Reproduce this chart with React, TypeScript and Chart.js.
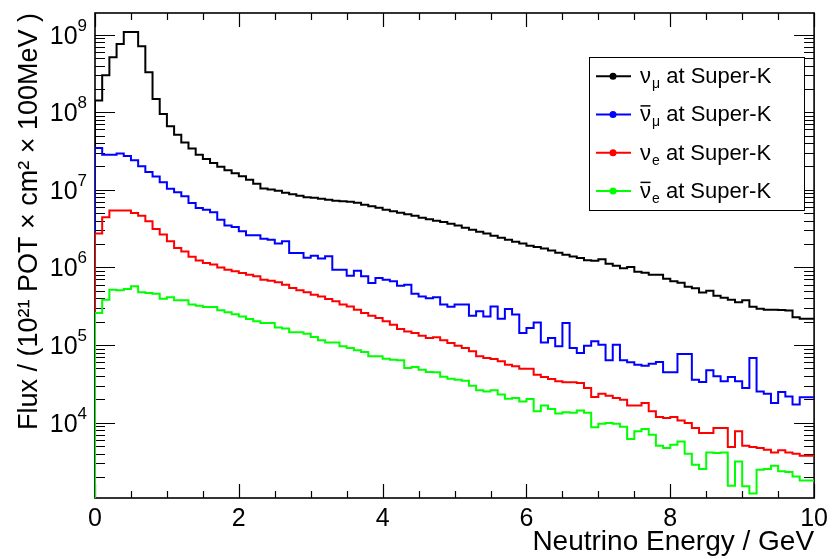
import React, { useEffect, useRef } from 'react';
import { Chart, registerables } from 'chart.js';

Chart.register(...registerables);

// ---- data -------------------------------------------------------------
const BIN_EDGES_GEV = [
  0.0, 0.1, 0.2, 0.3, 0.4, 0.5, 0.6, 0.7, 0.8, 0.9,
  1.0, 1.1, 1.2, 1.3, 1.4, 1.5, 1.6, 1.7, 1.8, 1.9,
  2.0, 2.1, 2.2, 2.3, 2.4, 2.5, 2.6, 2.7, 2.8, 2.9,
  3.0, 3.1, 3.2, 3.3, 3.4, 3.5, 3.6, 3.7, 3.8, 3.9,
  4.0, 4.1, 4.2, 4.3, 4.4, 4.5, 4.6, 4.7, 4.8, 4.9,
  5.0, 5.1, 5.2, 5.3, 5.4, 5.5, 5.6, 5.7, 5.8, 5.9,
  6.0, 6.1, 6.2, 6.3, 6.4, 6.5, 6.6, 6.7, 6.8, 6.9,
  7.0, 7.1, 7.2, 7.3, 7.4, 7.5, 7.6, 7.7, 7.8, 7.9,
  8.0, 8.1, 8.2, 8.3, 8.4, 8.5, 8.6, 8.7, 8.8, 8.9,
  9.0, 9.1, 9.2, 9.3, 9.4, 9.5, 9.6, 9.7, 9.8, 9.9,
  10.0,
];

const NUMU_SK = [
  3.7e7, 1.42e8, 2.99e8, 5.1e8, 7.59e8, 1.08e9, 1.08e9, 7.06e8, 3.27e8, 1.48e8,
  9.5e7, 6.58e7, 5.14e7, 4.06e7, 3.4e7, 2.84e7, 2.49e7, 2.21e7, 1.99e7, 1.79e7,
  1.64e7, 1.5e7, 1.35e7, 1.2e7, 1.04e7, 1.01e7, 9.77e6, 9.2e6, 8.8e6, 8.42e6,
  8.05e6, 7.93e6, 7.7e6, 7.48e6, 7.26e6, 7.15e6, 7.05e6, 6.84e6, 6.45e6, 6.16e6,
  5.9e6, 5.56e6, 5.31e6, 5.08e6, 4.86e6, 4.65e6, 4.38e6, 4.19e6, 4.01e6, 3.84e6,
  3.67e6, 3.46e6, 3.26e6, 3.07e6, 2.89e6, 2.73e6, 2.57e6, 2.42e6, 2.28e6, 2.15e6,
  2.03e6, 1.91e6, 1.83e6, 1.75e6, 1.65e6, 1.55e6, 1.46e6, 1.38e6, 1.32e6, 1.24e6,
  1.22e6, 1.28e6, 1.12e6, 1.055e6, 9.8e5, 1.01e6, 8.83e5, 8.57e5, 8.08e5, 8.08e5,
  7.17e5, 6.66e5, 6.37e5, 5.66e5, 5.41e5, 4.74e5, 5.02e5, 4.33e5, 4.08e5, 3.85e5,
  3.57e5, 3.79e5, 3.12e5, 2.94e5, 2.86e5, 2.86e5, 2.83e5, 2.78e5, 2.29e5, 2.19e5,
];

const NUMUBAR_SK = [
  3.47e7, 3.47e7, 2.84e7, 2.84e7, 2.93e7, 2.72e7, 2.4e7, 2.01e7, 1.7e7, 1.49e7,
  1.25e7, 1.03e7, 9.29e6, 8.25e6, 6.78e6, 5.85e6, 5.56e6, 5.13e6, 4.13e6, 3.46e6,
  3.33e6, 2.92e6, 2.6e6, 2.6e6, 2.35e6, 2.28e6, 2.03e6, 2.17e6, 1.54e6, 1.54e6,
  1.33e6, 1.42e6, 1.3e6, 1.39e6, 9.37e5, 9.37e5, 7.84e5, 9.09e5, 7.68e5, 6.32e5,
  7.32e5, 6.96e5, 6.62e5, 5.83e5, 6.0e5, 4.6e5, 4.24e5, 4.0e5, 4.14e5, 3.32e5,
  3.12e5, 3.32e5, 3.32e5, 2.39e5, 2.72e5, 2.34e5, 3.15e5, 2.19e5, 2.92e5, 2.47e5,
  1.43e5, 1.66e5, 1.96e5, 1.08e5, 1.23e5, 9.62e4, 1.93e5, 9.18e4, 7.91e4, 9.82e4,
  1.12e5, 1.01e5, 6.35e4, 1.01e5, 6.35e4, 5.99e4, 5.59e4, 5.43e4, 5.76e4, 6.06e4,
  4.45e4, 4.45e4, 7.68e4, 7.68e4, 3.58e4, 3.35e4, 4.72e4, 3.95e4, 3.41e4, 3.88e4,
  3.41e4, 2.8e4, 6.82e4, 2.53e4, 2.36e4, 1.79e4, 2.49e4, 2.18e4, 1.72e4, 2.12e4,
];

const NUE_SK = [
  6.37e5, 2.73e6, 4.42e6, 5.4e6, 5.4e6, 5.4e6, 5.04e6, 4.65e6, 3.93e6, 3.13e6,
  2.65e6, 2.17e6, 1.78e6, 1.61e6, 1.37e6, 1.23e6, 1.14e6, 1.09e6, 1.0e6, 9.37e5,
  8.91e5, 8.49e5, 8.08e5, 7.68e5, 6.96e5, 6.76e5, 6.46e5, 6.0e5, 5.44e5, 5.07e5,
  4.78e5, 4.46e5, 4.24e5, 3.93e5, 3.66e5, 3.32e5, 3.15e5, 2.86e5, 2.59e5, 2.39e5,
  2.24e5, 2.02e5, 1.83e5, 1.61e5, 1.5e5, 1.43e5, 1.32e5, 1.23e5, 1.26e5, 1.15e5,
  1.06e5, 9.82e4, 9.18e4, 8.3e4, 7.15e4, 6.82e4, 6.62e4, 6.17e4, 5.59e4, 5.32e4,
  4.97e4, 4.97e4, 4.16e4, 3.88e4, 3.66e4, 3.41e4, 3.31e4, 3.31e4, 3.25e4, 2.8e4,
  2.14e4, 2.36e4, 2.23e4, 2.08e4, 1.98e4, 1.66e4, 1.66e4, 1.79e4, 1.4e4, 1.18e4,
  1.15e4, 1.18e4, 1.07e4, 9.91e3, 8.55e3, 7.37e3, 7.37e3, 8.55e3, 8.55e3, 4.86e3,
  7.73e3, 5.05e3, 4.86e3, 4.72e3, 4.49e3, 4.14e3, 4.4e3, 4.14e3, 3.99e3, 3.75e3,
];

const NUEBAR_SK = [
  7.91e4, 2.59e5, 3.85e5, 5.18e5, 5.07e5, 5.28e5, 5.71e5, 4.78e5, 4.69e5, 4.6e5,
  3.96e5, 4.12e5, 3.77e5, 3.77e5, 3.32e5, 3.22e5, 3.1e5, 3.1e5, 2.8e5, 2.64e5,
  2.49e5, 2.34e5, 2.17e5, 2.02e5, 1.93e5, 1.93e5, 1.69e5, 1.63e5, 1.46e5, 1.46e5,
  1.4e5, 1.27e5, 1.15e5, 1.08e5, 1.08e5, 9.62e4, 9.18e4, 8.55e4, 8.15e4, 7.15e4,
  7.15e4, 6.68e4, 6.48e4, 6.35e4, 5.07e4, 5.22e4, 4.82e4, 4.5e4, 4.48e4, 3.92e4,
  3.69e4, 3.58e4, 3.48e4, 3.0e4, 2.61e4, 2.53e4, 2.61e4, 2.3e4, 2.04e4, 2.08e4,
  1.88e4, 2.02e4, 1.4e4, 1.66e4, 1.5e4, 1.31e4, 1.36e4, 1.34e4, 1.43e4, 1.34e4,
  8.7e3, 9.71e3, 9.91e3, 9.71e3, 8.88e3, 6.16e3, 7.73e3, 8.3e3, 7.0e3, 5.05e3,
  4.72e3, 5.21e3, 5.74e3, 3.99e3, 2.88e3, 2.53e3, 4.14e3, 4.07e3, 4.14e3, 1.54e3,
  3.17e3, 1.52e3, 1.22e3, 2.48e3, 2.53e3, 2.79e3, 2.36e3, 2.31e3, 2.03e3, 1.8e3,
];

const X_MAJOR_TICKS = [0, 2, 4, 6, 8, 10];
const X_MINOR_TICKS = [0.5, 1, 1.5, 2.5, 3, 3.5, 4.5, 5, 5.5, 6.5, 7, 7.5, 8.5, 9, 9.5];
const Y_DECADE_EXPONENTS = [3, 4, 5, 6, 7, 8, 9];
const Y_MIN = 1070;
const Y_MAX = 1.9e9;

const SERIES = [
  { key: 'numu', values: NUMU_SK, color: '#000000', nu: 'ν', bar: false, sub: 'μ' },
  { key: 'numubar', values: NUMUBAR_SK, color: '#0000ff', nu: 'ν', bar: true, sub: 'μ' },
  { key: 'nue', values: NUE_SK, color: '#ff0000', nu: 'ν', bar: false, sub: 'e' },
  { key: 'nuebar', values: NUEBAR_SK, color: '#00ff00', nu: 'ν', bar: true, sub: 'e' },
];
const LEGEND_SUFFIX = ' at Super-K';

const FONT = '"Liberation Sans", Arial, Helvetica, sans-serif';

// ---- helpers ----------------------------------------------------------
function histPoints(values: number[]) {
  const pts: { x: number; y: number }[] = [{ x: BIN_EDGES_GEV[0], y: Y_MIN }];
  values.forEach((v, i) => pts.push({ x: BIN_EDGES_GEV[i], y: v }));
  pts.push({ x: BIN_EDGES_GEV[values.length], y: values[values.length - 1] });
  return pts;
}

const rootAxesPlugin = {
  id: 'rootAxes',
  beforeDatasetsDraw(chart: any) {
    const { ctx, chartArea: a, scales } = chart;
    const xs = scales.x;
    const ys = scales.y;
    ctx.save();
    ctx.strokeStyle = '#000';
    ctx.lineWidth = 1.2;
    ctx.beginPath();
    const xTick = (v: number, len: number) => {
      const px = Math.round(xs.getPixelForValue(v)) + 0.5;
      ctx.moveTo(px, a.bottom);
      ctx.lineTo(px, a.bottom - len);
      ctx.moveTo(px, a.top);
      ctx.lineTo(px, a.top + len);
    };
    X_MAJOR_TICKS.forEach((v) => xTick(v, 14));
    X_MINOR_TICKS.forEach((v) => xTick(v, 7));
    Y_DECADE_EXPONENTS.forEach((k) => {
      for (let m = 1; m <= 9; m++) {
        const v = m * Math.pow(10, k);
        if (v < Y_MIN || v > Y_MAX) continue;
        const py = Math.round(ys.getPixelForValue(v)) + 0.5;
        const len = m === 1 ? 20 : 10;
        ctx.moveTo(a.left, py);
        ctx.lineTo(a.left + len, py);
        ctx.moveTo(a.right, py);
        ctx.lineTo(a.right - len, py);
      }
    });
    ctx.stroke();
    ctx.lineWidth = 1.6;
    ctx.strokeRect(a.left, a.top, a.right - a.left, a.bottom - a.top);

    // y tick labels (10 with superscript exponent)
    ctx.fillStyle = '#000';
    ctx.textBaseline = 'alphabetic';
    Y_DECADE_EXPONENTS.forEach((k) => {
      const v = Math.pow(10, k);
      if (v < Y_MIN || v > Y_MAX) return;
      const py = ys.getPixelForValue(v);
      ctx.font = `17px ${FONT}`;
      const exp = String(k);
      const we = ctx.measureText(exp).width;
      ctx.font = `25px ${FONT}`;
      const wb = ctx.measureText('10').width;
      const xEnd = a.left - 8;
      ctx.textAlign = 'left';
      ctx.fillText('10', xEnd - we - wb, py + 9);
      ctx.font = `17px ${FONT}`;
      ctx.fillText(exp, xEnd - we, py - 4);
    });
    ctx.restore();
  },
};

const rootLegendPlugin = {
  id: 'rootLegend',
  afterDraw(chart: any) {
    const { ctx } = chart;
    const box = { x: 589, y: 57, w: 215, h: 153 };
    ctx.save();
    ctx.fillStyle = '#ffffff';
    ctx.fillRect(box.x, box.y, box.w, box.h);
    ctx.strokeStyle = '#000';
    ctx.lineWidth = 1;
    ctx.strokeRect(box.x + 0.5, box.y + 0.5, box.w, box.h);
    const rowH = box.h / SERIES.length;
    SERIES.forEach((s, i) => {
      const cy = box.y + rowH * (i + 0.5);
      ctx.strokeStyle = s.color;
      ctx.lineWidth = 2;
      ctx.beginPath();
      ctx.moveTo(box.x + 7, cy);
      ctx.lineTo(box.x + 42, cy);
      ctx.stroke();
      ctx.fillStyle = s.color;
      ctx.beginPath();
      ctx.arc(box.x + 24, cy, 3.5, 0, Math.PI * 2);
      ctx.fill();
      // label
      ctx.fillStyle = '#000';
      ctx.textAlign = 'left';
      ctx.textBaseline = 'alphabetic';
      let x = box.x + 51;
      const base = cy + 7;
      ctx.font = `22px ${FONT}`;
      ctx.fillText(s.nu, x, base);
      const wn = ctx.measureText(s.nu).width;
      if (s.bar) {
        ctx.strokeStyle = '#000';
        ctx.lineWidth = 1.5;
        ctx.beginPath();
        ctx.moveTo(x + 0.5, base - 15.5);
        ctx.lineTo(x + wn - 0.5, base - 15.5);
        ctx.stroke();
      }
      x += wn;
      ctx.font = `14px ${FONT}`;
      ctx.fillText(s.sub, x + 1, base + 5);
      x += ctx.measureText(s.sub).width + 1;
      ctx.font = `22px ${FONT}`;
      ctx.fillText(LEGEND_SUFFIX, x, base);
    });
    ctx.restore();
  },
};

export default function App() {
  const canvasRef = useRef<HTMLCanvasElement | null>(null);

  useEffect(() => {
    const canvas = canvasRef.current;
    if (!canvas) return;
    const chart = new Chart(canvas, {
      type: 'line',
      data: {
        datasets: SERIES.map((s, i) => ({
          label: s.key,
          data: histPoints(s.values),
          borderColor: s.color,
          backgroundColor: s.color,
          borderWidth: 2,
          pointRadius: 0,
          stepped: 'after' as const,
          fill: false,
          order: SERIES.length - i,
        })),
      },
      options: {
        animation: false,
        responsive: false,
        maintainAspectRatio: false,
        events: [],
        layout: { padding: { left: 0, right: 16, top: 13, bottom: 0 } },
        plugins: {
          legend: { display: false },
          tooltip: { enabled: false },
        },
        scales: {
          x: {
            type: 'linear',
            min: 0,
            max: 10,
            grid: { display: false, drawTicks: false },
            border: { display: false },
            ticks: {
              stepSize: 2,
              color: '#000',
              padding: 6,
              maxRotation: 0,
              font: { family: FONT, size: 25 },
            },
            title: {
              display: true,
              text: 'Neutrino Energy / GeV',
              align: 'end',
              color: '#000',
              font: { family: FONT, size: 28 },
              padding: { top: 0, bottom: 0 },
            },
            afterFit: (scale: any) => {
              scale.height = 61;
            },
          },
          y: {
            type: 'logarithmic',
            min: Y_MIN,
            max: Y_MAX,
            grid: { display: false, drawTicks: false },
            border: { display: false },
            ticks: { display: false },
            title: {
              display: true,
              text: 'Flux / (10²¹ POT × cm² × 100MeV )',
              align: 'end',
              color: '#000',
              font: { family: FONT, size: 27 },
              padding: { top: 13, bottom: 0 },
            },
            afterFit: (scale: any) => {
              scale.width = 95;
            },
          },
        },
      },
      plugins: [rootAxesPlugin, rootLegendPlugin],
    });
    return () => chart.destroy();
  }, []);

  return (
    <div style={{ position: 'absolute', left: 0, top: 0, width: 834, height: 559, background: '#fff' }}>
      <canvas ref={canvasRef} width={834} height={559} />
    </div>
  );
}
